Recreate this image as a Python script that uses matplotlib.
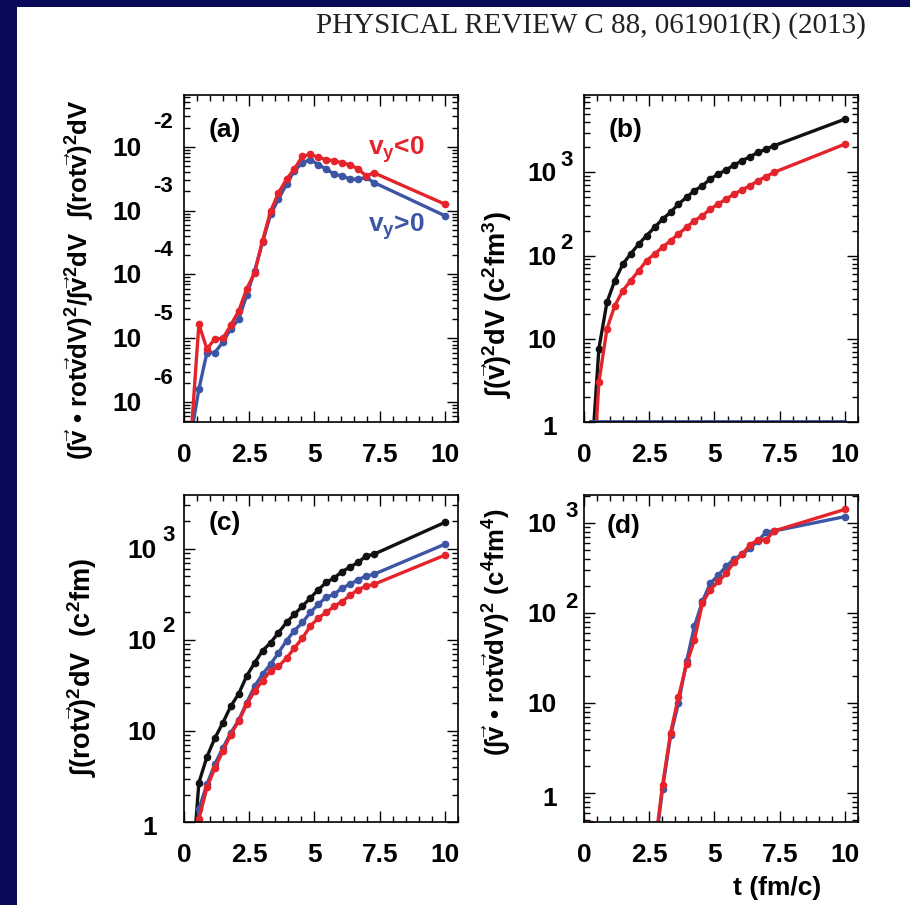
import matplotlib
matplotlib.use('Agg')
import matplotlib.pyplot as plt
from matplotlib.patches import Rectangle
from matplotlib.ticker import LogLocator, MultipleLocator, NullFormatter
import numpy as np

plt.rcParams['font.family'] = ['Liberation Sans', 'DejaVu Sans']
plt.rcParams['font.weight'] = 'bold'
plt.rcParams['mathtext.fontset'] = 'custom'
plt.rcParams['mathtext.rm'] = 'Liberation Sans:bold'
plt.rcParams['mathtext.bf'] = 'Liberation Sans:bold'
plt.rcParams['mathtext.it'] = 'Liberation Sans:bold'
plt.rcParams['mathtext.sf'] = 'Liberation Sans:bold'
plt.rcParams['mathtext.default'] = 'rm'

RED = '#e5232b'
BLUE = '#3d55a5'
BLACK = '#111111'

# time grid (fm/c)
t = [0.27, 0.57, 0.88, 1.18, 1.49, 1.79, 2.10, 2.40, 2.71, 3.01, 3.32, 3.62, 3.93,
     4.23, 4.54, 4.84, 5.15, 5.45, 5.76, 6.06, 6.37, 6.67, 6.98, 7.28, 10.0]

# (a) ratio, vy<0 (red) and vy>0 (blue)
a_red = [3e-7, 1.66e-5, 6.8e-6, 9.8e-6, 1.0e-5, 1.6e-5, 2.7e-5, 5.9e-5, 1.07e-4, 3.4e-4,
         9.8e-4, 1.9e-3, 3.1e-3, 4.5e-3, 7.1e-3, 7.6e-3, 6.8e-3, 6.3e-3, 6.0e-3, 5.6e-3,
         5.2e-3, 4.5e-3, 3.5e-3, 3.9e-3, 1.26e-3]
a_blue = [3e-7, 1.6e-6, 6.0e-6, 6.0e-6, 8.7e-6, 1.4e-5, 2.0e-5, 4.7e-5, 1.15e-4, 3.2e-4,
          8.7e-4, 1.5e-3, 2.6e-3, 4.2e-3, 5.6e-3, 6.3e-3, 5.2e-3, 4.5e-3, 3.7e-3, 3.5e-3,
          3.1e-3, 3.1e-3, 3.3e-3, 2.75e-3, 8.3e-4]

# (b) int v^2 dV
b_black = [0.3, 7.6, 27.5, 50, 79, 105, 138, 174, 219, 275, 331, 417, 501, 603, 692,
           832, 955, 1072, 1230, 1380, 1549, 1738, 1905, 2089, 4365]
b_red = [0.08, 3.0, 13.2, 25, 38, 50, 66, 87, 105, 126, 151, 182, 219, 263, 302,
         363, 417, 479, 550, 617, 692, 794, 891, 1000, 2188]
b_blue = [1.0] * 25

# (c) int (rot v)^2 dV
c_black = [0.2, 2.7, 5.2, 8.3, 12.3, 18.6, 25.7, 40, 56, 76, 93, 120, 155, 191, 234,
           288, 355, 427, 479, 562, 631, 708, 832, 871, 1950]
c_blue = [0.1, 1.38, 2.6, 4.3, 6.5, 9.5, 13.2, 20.4, 31, 42, 54, 72, 98, 126, 155,
          200, 245, 295, 316, 372, 407, 457, 501, 525, 1122]
c_red = [0.05, 1.07, 2.4, 3.9, 6.0, 9.1, 12.9, 19.5, 27.5, 35.5, 45.7, 51, 63, 81, 105,
         141, 174, 200, 234, 263, 309, 355, 389, 407, 851]

# (d) (int v . rot v dV)^2
d_blue = [1e-3, 1e-3, 1e-3, 1e-3, 1e-3, 1e-3, 1e-3, 1e-3, 0.22, 1.12, 4.4, 10, 29, 71,
          135, 214, 263, 331, 398, 447, 525, 631, 794, 813, 1175]
d_red = [0.45, 1e-3, 1e-3, 1e-3, 1e-3, 1e-3, 1e-3, 1e-3, 0.25, 1.23, 4.7, 11.7, 27, 50,
         129, 182, 224, 275, 372, 447, 575, 646, 646, 813, 1413]

x_ticks = [0, 2.5, 5, 7.5, 10]
x_labels = ['0', '2.5', '5', '7.5', '10']

W, H = 910, 905
fig = plt.figure(figsize=(W / 100, H / 100), dpi=100, facecolor='#0a0a5a')
fig.add_artist(Rectangle((17 / W, 0), 1, (H - 7) / H, transform=fig.transFigure,
                         facecolor='white', edgecolor='none', zorder=-5))

fig.text(866 / W, 1 - 26 / H, 'PHYSICAL REVIEW C 88, 061901(R) (2013)',
         ha='right', va='center', fontsize=21, fontweight='normal',
         family='Liberation Serif', color='#222222')


def make_axes(left, top):
    ax = fig.add_axes([left / W, 1 - (top + 327) / H, 274 / W, 327 / H])
    ax.set_yscale('log')
    ax.set_xlim(0, 10.5)
    ax.set_xticks(x_ticks, x_labels)
    ax.xaxis.set_minor_locator(MultipleLocator(0.5))
    ax.yaxis.set_major_locator(LogLocator(base=10, numticks=20))
    ax.yaxis.set_minor_locator(LogLocator(base=10, subs=np.arange(2, 10), numticks=100))
    ax.yaxis.set_major_formatter(NullFormatter())
    ax.yaxis.set_minor_formatter(NullFormatter())
    ax.tick_params(which='both', direction='in', top=True, right=True, width=1.0)
    ax.tick_params(which='major', length=8, labelsize=19, pad=15)
    ax.tick_params(which='minor', length=4)
    for s in ax.spines.values():
        s.set_linewidth(1.2)
    return ax


def decade_labels(ax, decades, base_dx, exp_dx, exp_dy):
    tr = ax.get_yaxis_transform()
    for d in decades:
        v = 10.0 ** d
        if d == 0:
            txt, ex, dy = '1', None, -6
        elif d == 1:
            txt, ex, dy = '10', None, -2
        else:
            txt, ex, dy = '10', str(d), -2
        ax.annotate(txt, xy=(0, v), xycoords=tr, xytext=(base_dx, dy),
                    textcoords='offset pixels', ha='right', va='center', fontsize=19)
        if ex:
            ax.annotate(ex, xy=(0, v), xycoords=tr, xytext=(exp_dx, exp_dy),
                        textcoords='offset pixels', ha='left', va='center', fontsize=16)


def curve(ax, y, color):
    ax.plot(t, y, '-o', color=color, lw=2.4, ms=4.5, mec=color, mfc=color)


# (a)
ax_a = make_axes(184, 95)
ax_a.set_ylim(10 ** -6.31, 10 ** -1.19)
curve(ax_a, a_blue, BLUE)
curve(ax_a, a_red, RED)
decade_labels(ax_a, [-2, -3, -4, -5, -6], -42, -31, 24)
ax_a.text(0.15, 0.893, '(a)', transform=ax_a.transAxes, ha='center', va='center', fontsize=19)
ax_a.text(0.672, 0.817, r'$v_y$<0', transform=ax_a.transAxes, color=RED,
          ha='left', va='baseline', fontsize=19)
ax_a.text(0.672, 0.581, r'$v_y$>0', transform=ax_a.transAxes, color=BLUE,
          ha='left', va='baseline', fontsize=19)
fig.text(80 / W, 1 - 280 / H,
         r'$(\int\vec{v}$ • $\mathrm{rot}\vec{v}dV)^2/\int\vec{v}^2dV\ \ \int(\mathrm{rot}\vec{v})^2dV$',
         rotation=90, ha='center', va='center', fontsize=18.5)

# (b)
ax_b = make_axes(584, 95)
ax_b.set_ylim(1, 10 ** 3.93)
curve(ax_b, b_black, BLACK)
curve(ax_b, b_red, RED)
ax_b.plot(t, b_blue, '-', color=BLUE, lw=2.8)
decade_labels(ax_b, [0, 1, 2, 3], -27, -24, 12)
ax_b.text(0.15, 0.893, '(b)', transform=ax_b.transAxes, ha='center', va='center', fontsize=19)
fig.text(497 / W, 1 - 305 / H, r'$\int(\vec{v})^2dV\ (c^2fm^3)$',
         rotation=90, ha='center', va='center', fontsize=19.5)

# (c)
ax_c = make_axes(184, 495)
ax_c.set_ylim(1, 10 ** 3.59)
curve(ax_c, c_black, BLACK)
curve(ax_c, c_blue, BLUE)
curve(ax_c, c_red, RED)
decade_labels(ax_c, [0, 1, 2, 3], -27, -22, 13)
ax_c.text(0.15, 0.914, '(c)', transform=ax_c.transAxes, ha='center', va='center', fontsize=19)
fig.text(82 / W, 1 - 667 / H, r'$\int(\mathrm{rot}\vec{v})^2dV\ \ (c^2fm)$',
         rotation=90, ha='center', va='center', fontsize=19.5)

# (d)
ax_d = make_axes(584, 495)
ax_d.set_ylim(10 ** -0.32, 10 ** 3.31)
curve(ax_d, d_blue, BLUE)
curve(ax_d, d_red, RED)
decade_labels(ax_d, [0, 1, 2, 3], -27, -19, 11)
ax_d.text(0.143, 0.905, '(d)', transform=ax_d.transAxes, ha='center', va='center', fontsize=19)
fig.text(497 / W, 1 - 632 / H, r'$(\int\vec{v}$ • $\mathrm{rot}\vec{v}dV)^2\ (c^4fm^4)$',
         rotation=90, ha='center', va='center', fontsize=18.5)
fig.text(777 / W, 1 - 888 / H, 't (fm/c)', ha='center', va='center', fontsize=19)

fig.savefig('out.png', dpi=100, facecolor=fig.get_facecolor())
